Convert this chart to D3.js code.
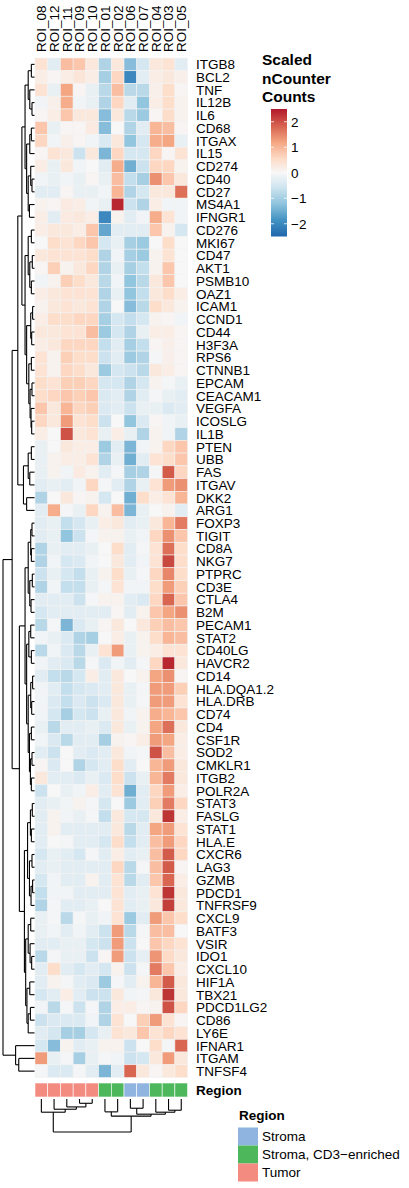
<!DOCTYPE html>
<html>
<head>
<meta charset="utf-8">
<script src="https://cdn.jsdelivr.net/npm/d3@7"></script>
<style>
  body { margin: 0; background: #fff; }
  text { font-family: "Liberation Sans", Arial, sans-serif; fill: #000; }
</style>
</head>
<body>
<svg id="chart" width="409" height="1188"></svg>
<script>
// Column (sample) labels, in display order
const colLabels = ["ROI_08","ROI_12","ROI_11","ROI_09","ROI_10","ROI_01","ROI_02","ROI_06","ROI_07","ROI_04","ROI_03","ROI_05"];
const colRegion = ["Tumor","Tumor","Tumor","Tumor","Tumor",
  "Stroma, CD3\u2212enriched","Stroma, CD3\u2212enriched","Stroma","Stroma",
  "Stroma, CD3\u2212enriched","Stroma, CD3\u2212enriched","Stroma, CD3\u2212enriched"];
const regionNames = ["Stroma","Stroma, CD3\u2212enriched","Tumor"];
const regionColors = ["#8FB4DF","#4CB85B","#F38B81"];

// Gene labels, in display order
const rowLabels = ["ITGB8","BCL2","TNF","IL12B","IL6","CD68","ITGAX","IL15","CD274","CD40","CD27","MS4A1",
  "IFNGR1","CD276","MKI67","CD47","AKT1","PSMB10","OAZ1","ICAM1","CCND1","CD44","H3F3A","RPS6","CTNNB1",
  "EPCAM","CEACAM1","VEGFA","ICOSLG","IL1B","PTEN","UBB","FAS","ITGAV","DKK2","ARG1","FOXP3","TIGIT",
  "CD8A","NKG7","PTPRC","CD3E","CTLA4","B2M","PECAM1","STAT2","CD40LG","HAVCR2","CD14","HLA.DQA1.2",
  "HLA.DRB","CD74","CD4","CSF1R","SOD2","CMKLR1","ITGB2","POLR2A","STAT3","FASLG","STAT1","HLA.E",
  "CXCR6","LAG3","GZMB","PDCD1","TNFRSF9","CXCL9","BATF3","VSIR","IDO1","CXCL10","HIF1A","TBX21",
  "PDCD1LG2","CD86","LY6E","IFNAR1","ITGAM","TNFSF4"];

// Scaled counts, one row per gene, one value per column
const values = [
  [0.4,-0.3,0.9,0.8,0.3,-0.9,0.3,-1.3,-0.5,0.3,0.4,-0.3],
  [0.2,0.05,0.2,0.35,0.2,-1.0,0.6,-2.0,-0.3,0.2,0.3,0.15],
  [0.4,-0.2,1.2,0.05,-0.2,-0.8,0.9,-0.8,-0.8,0.15,0.5,0.05],
  [-0.1,0.15,1.1,-0.1,-0.2,-0.9,0.6,-0.3,-1.2,0.2,0.5,0.1],
  [0.05,0.2,0.8,0.3,0.3,-1.3,0.3,-0.8,-1.1,0.05,0.5,0.1],
  [0.8,-0.2,0.05,0.05,0.25,-1.3,0.0,-0.9,-0.3,1.0,0.9,0.05],
  [0.6,-0.1,0.15,0.05,-0.1,-0.4,0.3,-1.2,-0.5,1.1,1.2,-0.2],
  [0.05,0.4,0.3,-0.6,0.3,-1.4,0.6,-0.5,-0.5,0.6,0.05,0.4],
  [0.2,-0.2,0.3,-0.1,0.0,-0.3,1.1,-1.5,-0.6,0.6,0.6,0.1],
  [-0.1,-0.2,-0.1,-0.2,0.05,-0.2,0.9,-0.7,-1.0,1.4,0.8,0.3],
  [-0.3,-0.3,0.05,-0.2,-0.2,-0.1,1.0,-0.9,-0.5,0.3,0.3,1.7],
  [0.1,0.05,0.25,0.2,-0.1,-0.2,2.4,-0.6,-0.9,0.2,-0.1,-0.1],
  [0.2,-0.3,0.25,0.3,0.2,-2.0,0.1,-0.3,-0.1,1.1,0.4,-0.1],
  [0.2,0.3,0.3,0.2,0.8,-1.6,-0.3,-0.3,-0.3,0.8,0.1,-0.5],
  [0.0,0.5,0.4,0.6,0.8,-0.5,-0.2,-1.0,-1.1,0.0,0.5,0.0],
  [0.3,0.4,0.4,0.4,0.5,-0.9,-0.1,-1.0,-1.1,0.1,0.4,0.0],
  [0.05,0.7,0.1,0.3,0.6,-0.9,-0.2,-1.0,-0.7,0.1,0.8,0.0],
  [-0.1,0.1,0.7,0.5,0.3,-0.8,-0.1,-1.2,-0.8,0.3,0.8,0.0],
  [0.2,0.3,0.4,0.4,0.4,-0.9,-0.2,-1.2,-0.7,0.3,0.5,0.2],
  [0.1,0.3,0.4,0.3,0.4,-0.9,0.0,-1.3,-0.8,0.5,0.3,0.1],
  [0.2,0.5,0.5,0.6,0.6,-1.0,-0.5,-0.7,-0.5,0.1,0.05,-0.1],
  [0.3,0.3,0.4,0.4,0.9,-1.1,-0.5,-0.9,-0.2,0.2,0.2,0.05],
  [0.2,0.3,0.6,0.6,0.6,-0.7,-0.3,-1.0,-0.7,0.05,0.15,0.05],
  [0.4,0.1,0.7,0.5,0.5,-0.6,-0.3,-1.1,-0.9,-0.05,0.15,0.05],
  [0.4,0.1,0.6,0.5,0.3,-1.1,-0.5,-0.6,-0.8,0.3,0.2,0.05],
  [0.5,0.4,0.7,0.7,0.6,-0.5,-0.5,-0.9,-0.5,0.1,-0.05,-0.2],
  [0.5,0.6,0.8,0.7,0.8,-0.4,-0.3,-0.9,-0.3,-0.05,-0.2,-0.3],
  [0.8,0.3,1.0,0.6,0.7,-0.4,-0.3,-0.6,-0.2,-0.2,-0.4,-0.3],
  [0.6,0.3,1.3,0.4,0.5,-0.6,0.0,-1.2,-0.4,0.05,-0.1,-0.2],
  [0.2,0.0,2.0,0.3,0.4,-0.2,0.2,-0.2,-0.9,0.1,-0.1,-0.9],
  [-0.2,0.0,0.3,0.2,0.2,-1.1,-0.3,-1.4,-0.1,0.1,0.6,0.8],
  [-0.2,0.1,0.2,0.2,0.4,-0.9,-0.2,-1.5,-0.3,0.4,0.5,0.8],
  [-0.2,0.1,-0.1,0.25,0.1,-0.3,-0.05,-1.0,-0.9,-0.05,1.9,0.6],
  [-0.3,-0.2,-0.3,-0.1,0.6,-0.05,-0.3,-0.9,-0.2,0.4,1.3,1.4],
  [-0.9,0.0,0.3,0.05,0.1,-0.5,0.0,-1.5,0.5,0.2,0.4,1.0],
  [-0.3,1.1,-0.05,-0.2,0.6,0.1,0.9,-1.4,-0.2,0.0,0.1,-0.3],
  [-0.3,-0.2,-0.7,-0.5,-0.2,0.2,0.3,-0.3,-0.2,0.3,1.0,1.6],
  [-0.3,-0.2,-1.2,-0.6,-0.05,0.1,0.1,-0.2,-0.1,0.6,1.4,0.8],
  [-0.9,-0.2,-0.3,-0.3,-0.2,0.0,0.5,-0.3,-0.05,0.4,1.7,0.5],
  [-0.9,-0.1,-0.5,-0.4,-0.1,0.0,0.3,-0.3,-0.1,0.4,2.1,0.5],
  [-0.6,-0.2,-0.5,-0.7,-0.2,0.1,0.5,-0.2,-0.05,0.6,1.5,0.5],
  [-0.9,-0.1,-0.7,-0.7,-0.2,-0.05,0.4,-0.1,-0.1,0.5,1.3,0.7],
  [-0.3,-0.3,-0.3,-0.6,-0.05,0.1,0.1,-0.3,-0.4,0.6,1.8,0.8],
  [-0.5,-0.3,-0.3,-0.3,-0.3,-0.3,0.05,-0.3,0.1,0.8,1.2,1.4],
  [-0.8,-0.05,-1.4,-0.4,-0.2,0.05,0.3,0.0,0.3,0.7,0.9,0.8],
  [-0.1,-0.2,-0.4,-0.9,-1.0,0.0,0.2,-0.2,0.1,0.5,1.0,0.9],
  [-0.8,-0.1,-0.4,-0.8,-0.2,0.4,1.3,-0.2,0.1,0.2,0.4,0.4],
  [-0.1,-0.3,-0.4,-0.8,-0.05,-0.4,-0.1,-0.3,-0.05,0.6,2.4,0.3],
  [-0.3,-0.7,-0.8,-0.5,0.2,-0.3,0.3,0.0,0.1,1.2,1.4,0.05],
  [-0.1,-0.3,-0.7,-0.5,-0.4,-0.3,0.3,-0.2,-0.05,1.3,1.3,0.7],
  [-0.1,-0.4,-0.7,-0.4,-0.6,-0.4,0.3,-0.2,-0.05,1.3,1.3,0.4],
  [-0.1,-0.5,-1.0,-0.5,-0.6,-0.2,0.3,-0.1,0.1,1.1,1.0,0.8],
  [-0.2,-0.8,-0.3,-0.3,-0.2,-0.4,0.3,-0.2,0.1,1.2,1.7,0.3],
  [-0.1,-0.4,-0.8,-0.3,-0.3,-1.0,0.1,0.05,0.2,1.3,1.2,0.2],
  [-0.3,-0.6,0.0,-0.3,-0.4,-0.3,0.3,-0.1,-0.05,2.0,0.9,0.2],
  [0.05,-0.4,0.0,-0.9,-0.5,-0.3,0.5,-0.3,0.0,1.0,1.3,0.3],
  [0.3,-0.3,-0.3,-0.4,-0.2,-0.4,0.5,-0.6,-0.2,1.0,1.6,0.3],
  [-0.6,0.0,-0.2,-0.1,0.2,-0.3,0.4,-1.5,-0.3,0.6,1.3,0.2],
  [-0.3,-0.2,-0.1,0.1,-0.05,-0.5,0.0,-1.1,-0.3,0.7,1.6,0.6],
  [-0.3,0.1,-0.1,-0.2,-0.05,-0.7,0.3,-0.5,-0.5,0.3,2.3,0.2],
  [-0.3,0.1,-0.3,-0.3,-0.3,-0.3,0.3,-0.8,-0.3,1.2,1.3,0.4],
  [-0.3,0.0,-0.05,-0.3,-0.3,-0.5,0.5,-0.7,-0.3,0.9,1.3,0.6],
  [-0.5,-0.2,-0.3,-0.5,-0.05,-0.3,0.2,-0.3,-0.2,0.9,1.9,0.6],
  [-0.3,-0.2,-0.3,-0.3,-0.3,-0.3,0.6,-0.8,-0.05,0.9,1.9,0.05],
  [-0.5,-0.1,-0.3,-0.3,0.1,-0.3,0.4,-0.8,-0.3,0.8,1.8,0.2],
  [-0.7,-0.1,-0.1,-0.3,-0.3,-0.3,0.4,-0.3,-0.2,0.4,2.3,0.3],
  [-0.9,-0.05,-0.3,-0.3,-0.2,0.0,0.4,-0.3,-0.2,0.3,2.2,0.3],
  [-0.2,-0.05,-0.8,-0.05,-0.2,-0.1,0.4,-1.1,-0.3,1.3,0.8,0.5],
  [-0.2,-0.1,-0.3,-0.1,-0.3,-0.6,1.3,-0.8,-0.05,0.9,0.9,0.0],
  [-0.3,-0.3,-0.2,-0.2,-0.5,-0.6,1.3,-0.6,0.0,0.8,0.6,0.4],
  [-0.8,-0.05,-0.2,-0.2,-0.6,0.05,1.3,-0.6,-0.25,1.35,0.55,0.3],
  [-0.3,0.5,-0.3,-0.5,-0.3,-0.5,0.1,-0.6,-0.05,1.6,0.8,0.2],
  [-0.3,0.1,-0.05,-0.3,-0.4,-1.1,-0.05,-0.3,0.1,1.0,1.9,0.3],
  [-0.5,-0.3,0.2,-0.3,-0.6,-0.6,0.3,-0.1,-0.05,0.3,2.3,0.3],
  [-0.1,-0.8,-0.05,-0.6,-0.05,-0.9,0.2,0.2,0.05,0.1,2.0,0.6],
  [-0.6,-0.4,-0.4,-0.4,-0.1,-0.9,0.4,0.0,0.7,1.3,0.4,0.05],
  [-0.3,-0.5,-1.0,-1.0,-0.5,-0.2,0.4,0.3,0.8,0.4,0.6,0.4],
  [-0.5,-1.3,0.1,-0.3,-0.2,0.1,0.1,-0.6,0.0,0.5,-0.05,1.8],
  [1.3,-0.2,-0.05,-1.0,-0.2,-0.05,-0.1,-0.6,-0.5,0.3,1.3,0.3],
  [-0.05,-0.4,-0.4,-0.05,-0.3,-1.4,-0.3,1.8,0.3,0.05,0.3,0.5]
];

// Row dendrogram: [height, left, right], leaves are row indices
const rowTree = [10,
  [7.1,
    [5.3,
      [4,
        [3, [2, [1, 0, 1], [1.5, 2, [0.8, 3, 4]]], [2.5, [1.5, [1, 5, 6], 7], [2, [1.2, 8, [0.8, 9, 10]], [1.6, 11, 12]]]],
        [3, [2, [1, 13, 14], [1.5, [0.7, 15, 16], [1, 17, 18]]], [2.5, [1.2, [0.6, 19, 20], [0.9, 21, 22]], [1.8, [1, 23, 24], [1.4, [0.8, 25, 26], [1.1, 27, [0.9, 28, 29]]]]]]],
      [3.5, [2, [1, 30, 31], [1.5, 32, 33]], [2.5, 34, 35]]],
    [4.8,
      [3, [2, [1.2, [0.8, 36, 37], [1, 38, 39]], [1.5, [0.7, 40, 41], [1.1, 42, 43]]], [2.5, [1.8, [1.2, 44, 45], [1, 46, 47]], [2, [1.2, [0.6, 48, 49], [0.9, 50, 51]], [1.6, [1, 52, 53], [1.3, [0.8, 54, 55], [1, 56, 57]]]]]],
      [3.2, [2.2, [1.3, [0.7, 58, 59], [1, 60, 61]], [1.6, [0.8, 62, 63], [1.1, [0.6, 64, 65], 66]]], [2.8, [2, [1.2, 67, 68], [1.4, 69, [0.9, 70, 71]]], [2.4, [1.5, 72, 73], [2, [1.3, 74, 75], 76]]]]]],
  [6, 77, [5, 78, 79]]];

// Column dendrogram, leaves are column indices
const colTree = [10,
  [4, 0, [3.1, 1, [2.4, 2, [1.3, 3, 4]]]],
  [5.2, [3.9, 5, 6], [4.6, [2.8, 7, 8], [4.0, 9, [3.4, 10, 11]]]]];

const legendTicks = [2, 1, 0, -1, -2];

const svg = d3.select("#chart");

const x = d3.scaleBand().domain(d3.range(colLabels.length)).range([35, 187.6]);
const y = d3.scaleBand().domain(d3.range(rowLabels.length)).range([58, 1077.5]);

const color = d3.scaleLinear()
  .domain([-2.5, -1.85, -1.2, -0.55, 0, 0.55, 1.2, 1.85, 2.5])
  .range(["#2166ac","#4393c3","#92c5de","#d1e5f0","#f7f7f7","#fddbc7","#f4a582","#d6604d","#b2182b"])
  .interpolate(d3.interpolateLab)
  .clamp(true);

// Heatmap cells
const cells = [];
values.forEach((row, i) => row.forEach((v, j) => cells.push({ i, j, v })));

svg.append("g")
  .selectAll("rect")
  .data(cells)
  .enter()
  .append("rect")
  .attr("x", (d) => x(d.j))
  .attr("y", (d) => y(d.i))
  .attr("width", x.bandwidth())
  .attr("height", y.bandwidth())
  .attr("fill", (d) => color(d.v))
  .attr("stroke", "#f2f2f2")
  .attr("stroke-width", 0.6);

// Row labels
svg.append("g")
  .selectAll("text")
  .data(rowLabels)
  .enter()
  .append("text")
  .attr("x", 196)
  .attr("y", (d, i) => y(i) + y.bandwidth() / 2)
  .attr("dy", "0.36em")
  .style("font-size", "13.5px")
  .text((d) => d);

// Column labels (rotated)
svg.append("g")
  .selectAll("text")
  .data(colLabels)
  .enter()
  .append("text")
  .attr("transform", (d, j) => `translate(${x(j) + x.bandwidth() / 2},52) rotate(-90)`)
  .attr("dy", "0.36em")
  .style("font-size", "13.5px")
  .text((d) => d);

// Region annotation bar
const annY = 1083;
const annH = 14;
svg.append("g")
  .selectAll("rect")
  .data(colRegion)
  .enter()
  .append("rect")
  .attr("x", (d, j) => x(j))
  .attr("y", annY)
  .attr("width", x.bandwidth())
  .attr("height", annH)
  .attr("fill", (d) => regionColors[regionNames.indexOf(d)])
  .attr("stroke", "#ffffff")
  .attr("stroke-width", 0.6);

svg.append("text")
  .attr("x", 196)
  .attr("y", annY + annH / 2)
  .attr("dy", "0.36em")
  .style("font-size", "13.5px")
  .style("font-weight", "bold")
  .text("Region");

// Dendrogram drawing: returns position of node along the leaf axis and its height
function drawTree(g, node, leafPos, hPos, horizontal) {
  if (!Array.isArray(node)) return { p: leafPos(node), h: 0 };
  const a = drawTree(g, node[1], leafPos, hPos, horizontal);
  const b = drawTree(g, node[2], leafPos, hPos, horizontal);
  const h = node[0];
  const segs = [
    [a.p, hPos(a.h), a.p, hPos(h)],
    [b.p, hPos(b.h), b.p, hPos(h)],
    [a.p, hPos(h), b.p, hPos(h)]
  ];
  segs.forEach((s) => {
    const line = g.append("line").attr("stroke", "#000").attr("stroke-width", 1.1);
    if (horizontal) {
      line.attr("x1", s[0]).attr("y1", s[1]).attr("x2", s[2]).attr("y2", s[3]);
    } else {
      line.attr("x1", s[1]).attr("y1", s[0]).attr("x2", s[3]).attr("y2", s[2]);
    }
  });
  return { p: (a.p + b.p) / 2, h };
}

const rowH = d3.scaleLinear().domain([0, rowTree[0]]).range([34.5, 3]);
drawTree(svg.append("g"), rowTree, (i) => y(i) + y.bandwidth() / 2, rowH, false);

const colH = d3.scaleLinear().domain([0, colTree[0]]).range([1099, 1132]);
drawTree(svg.append("g"), colTree, (j) => x(j) + x.bandwidth() / 2, colH, true);

// Color legend
const defs = svg.append("defs");
const grad = defs.append("linearGradient")
  .attr("id", "grad")
  .attr("x1", 0).attr("y1", 1).attr("x2", 0).attr("y2", 0);
color.domain().forEach((v) => {
  grad.append("stop")
    .attr("offset", (v + 2.5) / 5)
    .attr("stop-color", color(v));
});

const legY = d3.scaleLinear().domain([-2.5, 2.5]).range([236.5, 109]);
const legTitle = ["Scaled", "nCounter", "Counts"];
svg.append("g")
  .selectAll("text")
  .data(legTitle)
  .enter()
  .append("text")
  .attr("x", 262)
  .attr("y", (d, i) => 65 + i * 18.7)
  .style("font-size", "15.5px")
  .style("font-weight", "bold")
  .text((d) => d);

svg.append("rect")
  .attr("x", 271)
  .attr("y", legY(2.5))
  .attr("width", 16)
  .attr("height", legY(-2.5) - legY(2.5))
  .attr("fill", "url(#grad)");

const legTickG = svg.append("g");
legendTicks.forEach((t) => {
  legTickG.append("line")
    .attr("x1", 271).attr("x2", 274)
    .attr("y1", legY(t)).attr("y2", legY(t))
    .attr("stroke", "#fff").attr("stroke-width", 0.8);
  legTickG.append("line")
    .attr("x1", 284).attr("x2", 287)
    .attr("y1", legY(t)).attr("y2", legY(t))
    .attr("stroke", "#fff").attr("stroke-width", 0.8);
  legTickG.append("text")
    .attr("x", 291)
    .attr("y", legY(t))
    .attr("dy", "0.36em")
    .style("font-size", "13.5px")
    .text(t < 0 ? "\u2212" + Math.abs(t) : t);
});

// Region legend
svg.append("text")
  .attr("x", 239)
  .attr("y", 1120)
  .style("font-size", "13.5px")
  .style("font-weight", "bold")
  .text("Region");

const regLeg = svg.append("g")
  .selectAll("g")
  .data(regionNames)
  .enter()
  .append("g")
  .attr("transform", (d, i) => `translate(238,${1127.5 + i * 18})`);
regLeg.append("rect")
  .attr("width", 20)
  .attr("height", 18)
  .attr("fill", (d, i) => regionColors[i]);
regLeg.append("text")
  .attr("x", 24)
  .attr("y", 9)
  .attr("dy", "0.36em")
  .style("font-size", "13.5px")
  .text((d) => d);
</script>
</body>
</html>
